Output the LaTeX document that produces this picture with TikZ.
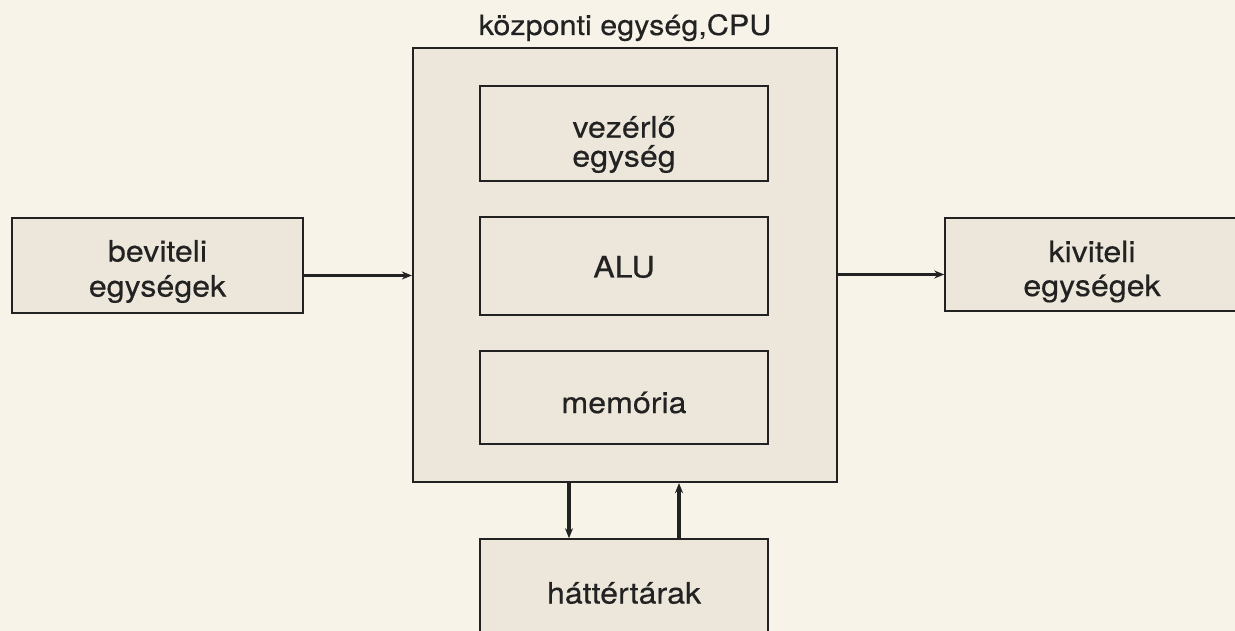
\documentclass[tikz,border=0pt]{standalone}
\usepackage{fontspec}
\setmainfont[FakeStretch=1.09,FakeBold=0.4]{TeX Gyre Heros}
\usetikzlibrary{arrows.meta,calc}
\definecolor{paper}{HTML}{F7F3E8}
\definecolor{stip}{HTML}{ECE7DA}
\definecolor{ink}{HTML}{222222}
\begin{document}
\begin{tikzpicture}[x=1pt,y=1pt,
  box/.style={draw=ink, line width=1.5pt, fill=stip, inner sep=0pt},
  outer/.style={box, line width=2.2pt},
  lbl/.style={inner sep=0pt, font=\fontsize{29.5}{#1}\selectfont, text=ink, align=center},
  lbl/.default=31,
  conn/.style={draw=ink, line width=2.6pt, -{Stealth[length=10pt,width=8pt]}},
  vconn/.style={conn, line width=3.6pt},
]
\useasboundingbox (0,0) rectangle (1235,631);
\clip (0,0) rectangle (1235,631);
\fill[paper] (0,0) rectangle (1235,631);

\node[outer, minimum width=424pt, minimum height=434pt] (cpu) at (625,366) {};
\node[anchor=base, font=\fontsize{28}{30}\selectfont, text=ink] (title) at (625,596) {központi egység,CPU};

\node[box, minimum width=288pt, minimum height=95pt] (vez) at (624,497.5) {};
\node[box, minimum width=288pt, minimum height=98pt] (alu) at (624,365) {};
\node[box, minimum width=288pt, minimum height=93pt] (mem) at (624,233.5) {};
\node[box, minimum width=288pt, minimum height=108pt] (hat) at (624,38) {};
\node[box, minimum width=291pt, minimum height=95pt] (bev) at (157.5,365.5) {};
\node[box, minimum width=294pt, minimum height=93pt] (kiv) at (1092,366.5) {};

\node[lbl=29] (vezt) at ([yshift=-11pt]vez.center) {vezérlő\\egység};
\node[lbl] (alut) at ([yshift=-1pt]alu.center) {ALU};
\node[lbl] (memt) at ([yshift=-5pt]mem.center) {memória};
\node[lbl] (hatt) at (hat.center) {háttértárak};
\node[lbl=35] (bevt) at ([yshift=-6pt]bev.center) {beviteli\\egységek};
\node[lbl=34] (kivt) at ([yshift=-7pt]kiv.center) {kiviteli\\egységek};

\draw[conn] ([yshift=-10pt]bev.east) -- ([yshift=-10pt]bev.east -| cpu.west);
\draw[conn] ([yshift=-10pt]kiv.west -| cpu.east) -- ([yshift=-10pt]kiv.west);
\draw[vconn] (cpu.south -| 569,0) -- (hat.north -| 569,0);
\draw[vconn] (hat.north -| 679,0) -- (cpu.south -| 679,0);
\end{tikzpicture}
\end{document}
